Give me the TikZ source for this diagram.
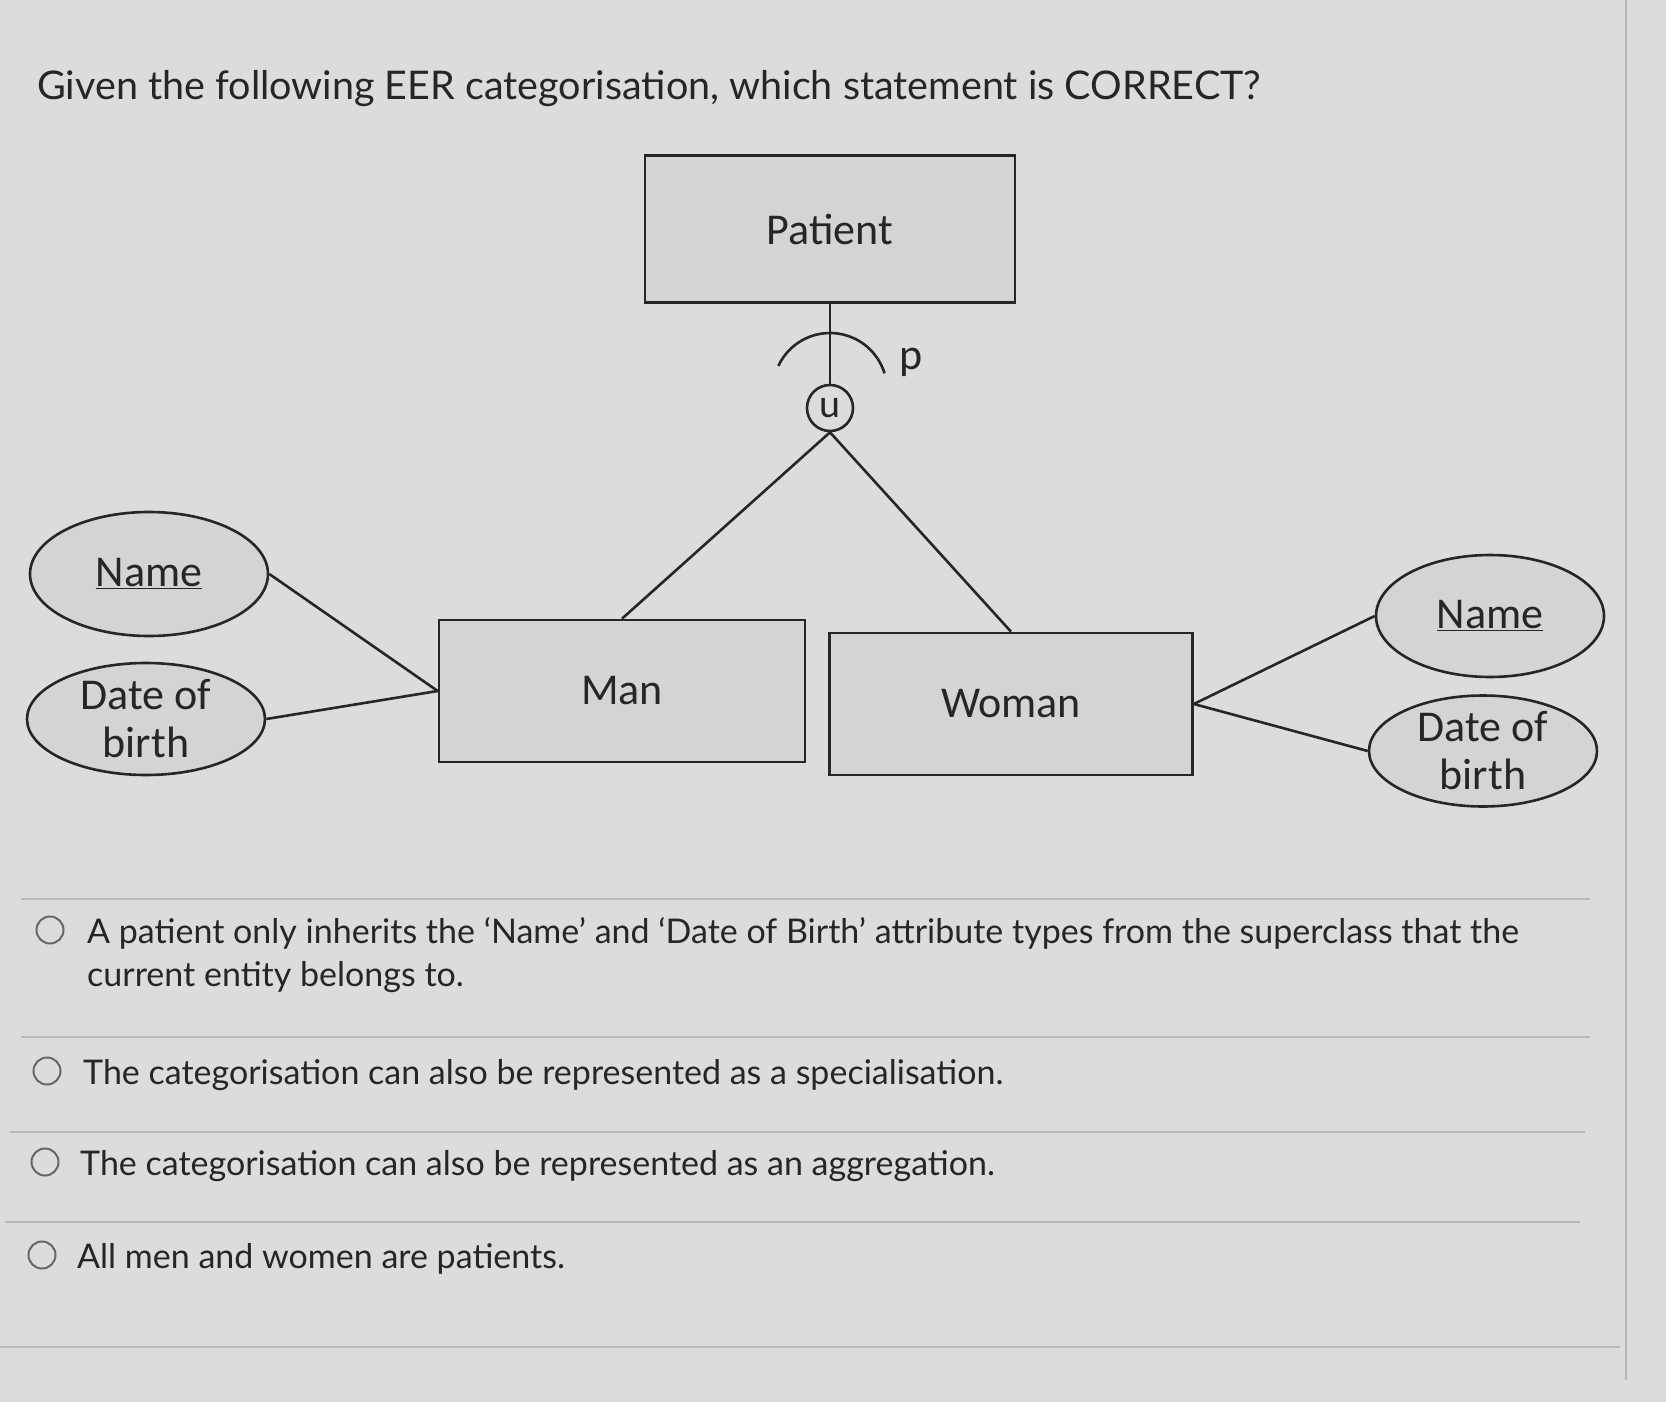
\documentclass[tikz,border=0pt]{standalone}
\usepackage{fontspec}
\setmainfont{Lato}
\newfontfamily\diagfont{Carlito}
\usetikzlibrary{shapes.geometric}
\definecolor{bg}{HTML}{DCDCDC}
\definecolor{shapefill}{HTML}{D4D4D4}
\definecolor{ink}{HTML}{262626}
\definecolor{sep}{HTML}{B8B8B8}
\tikzset{
  dfont/.style={font=\diagfont\fontsize{44}{48}\selectfont, text=ink},
  entity/.style={draw=ink, line width=2.6pt, fill=shapefill, dfont, inner sep=0pt},
  attr/.style={ellipse, draw=ink, line width=2.6pt, fill=shapefill, dfont, align=center, inner sep=0pt},
  conn/.style={draw=ink, line width=2.6pt},
  sepline/.style={draw=sep, line width=1.5pt},
  radio/.style={circle, draw=ink!70, line width=2pt, minimum size=27pt, inner sep=0pt},
  opt/.style={anchor=base west, text=ink, font=\fontsize{34}{42}\selectfont, inner sep=0pt},
}
\begin{document}
\begin{tikzpicture}[x=1pt, y=-1pt]
\fill[bg] (0,0) rectangle (1666,1402);
\useasboundingbox (0,0) rectangle (1666,1402);

% title
\node[anchor=base west, text=ink, font=\fontsize{39.5}{48}\selectfont, inner sep=0pt] (title) at (37,100)
  {Given the following EER categorisation, which statement is CORRECT?};

% entities
\node[entity, minimum width=370pt, minimum height=147pt] (patient) at (830,229) {Patient};
\node[entity, minimum width=366pt, minimum height=142pt] (man) at (622,691) {Man};
\node[entity, minimum width=363pt, minimum height=142pt] (woman) at (1011,704) {Woman};

% attributes
\node[attr, minimum width=238pt, minimum height=124pt] (lname) at (149,574) {\underline{Name}};
\node[attr, minimum width=238pt, minimum height=112pt] (ldob) at (146,719) {Date of\\birth};
\node[attr, minimum width=228pt, minimum height=122pt] (rname) at (1490,616) {\underline{Name}};
\node[attr, minimum width=228pt, minimum height=104pt] (rdob) at (1483,751) {Date of\\birth};

% union circle
\node[circle, draw=ink, line width=2.6pt, minimum size=46pt, inner sep=0pt,
      font=\diagfont\fontsize{40}{44}\selectfont, text=ink] (u) at (830,408) {u};
\node[dfont, inner sep=0pt] (plabel) at (911,362) {p};

% arc (subset symbol)
\coordinate (arcc) at (830,390);
\draw[conn] ([shift={(155:57pt)}]arcc) arc[start angle=155, end angle=17, radius=57pt];

% connectors
\draw[conn] (patient.south) -- (u.north);
\draw[conn] (u.south) -- (man.north);
\draw[conn] (u.south) -- (woman.north);
\draw[conn] (lname.east) -- (man.west);
\draw[conn] (ldob.east) -- (man.west);
\draw[conn] (woman.east) -- (rname.west);
\draw[conn] (woman.east) -- (rdob.west);

% separators and frame
\draw[sepline] (21,899) -- (1590,899);
\draw[sepline] (21,1037) -- (1590,1037);
\draw[sepline] (10,1132) -- (1585,1132);
\draw[sepline] (5,1222) -- (1580,1222);
\draw[sepline] (0,1347) -- (1620,1347);
\draw[sepline] (1626,0) -- (1626,1380);

% options
\node[radio] (r1) at (50,930) {};
\node[opt] (o1a) at (87,943) {A patient only inherits the ‘Name’ and ‘Date of Birth’ attribute types from the superclass that the};
\node[opt] (o1b) at (87,986) {current entity belongs to.};
\node[radio] (r2) at (47,1071) {};
\node[opt] (o2) at (83,1084) {The categorisation can also be represented as a specialisation.};
\node[radio] (r3) at (45,1162) {};
\node[opt] (o3) at (80,1175) {The categorisation can also be represented as an aggregation.};
\node[radio] (r4) at (42,1255) {};
\node[opt] (o4) at (77,1268) {All men and women are patients.};
\end{tikzpicture}
\end{document}
